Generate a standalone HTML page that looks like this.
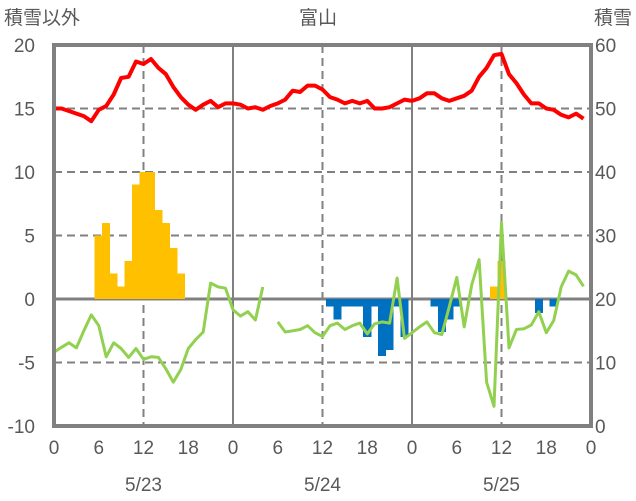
<!DOCTYPE html>
<html><head><meta charset="utf-8">
<style>
html,body{margin:0;padding:0;background:#fff;}
svg{display:block;font-family:"Liberation Sans","Noto Sans CJK JP",sans-serif;}
</style></head>
<body>
<svg id="chart" width="636" height="501" viewBox="0 0 636 501" xmlns="http://www.w3.org/2000/svg">
<g id="grid"></g>
<g id="bars" shape-rendering="crispEdges"></g>
<g id="lines"></g>
<g id="frame"></g>
<g id="labels"></g>
</svg>
<script>
const hourTicks = ["0","6","12","18","0","6","12","18","0","6","12","18","0"];
const dateLabels = ["5/23","5/24","5/25"];
const leftTicks = [20,15,10,5,0,-5,-10];
const rightTicks = [60,50,40,30,20,10,0];
const tempSeries = [15.0,15.0,14.8,14.6,14.4,14.0,14.9,15.2,16.1,17.4,17.5,18.7,18.5,18.9,18.2,17.7,16.7,15.9,15.3,14.9,15.3,15.6,15.1,15.4,15.4,15.3,15.0,15.1,14.9,15.2,15.4,15.7,16.4,16.3,16.8,16.8,16.5,15.9,15.7,15.4,15.6,15.4,15.6,15.0,15.0,15.1,15.4,15.7,15.6,15.8,16.2,16.2,15.8,15.6,15.8,16.0,16.4,17.5,18.2,19.2,19.3,17.7,17.0,16.1,15.4,15.4,15.0,14.9,14.5,14.3,14.6,14.2];
const greenSeries = [11.6,12.4,13.1,12.3,15.0,17.5,15.8,10.9,13.1,12.2,10.8,12.2,10.5,10.9,10.8,9.0,6.9,8.9,12.2,13.6,14.8,22.5,21.9,21.7,18.3,17.3,18.0,16.7,21.9,null,16.4,14.8,15.0,15.2,15.8,14.7,14.1,15.8,16.2,15.2,15.8,16.2,14.5,16.1,16.4,16.2,23.3,13.8,14.7,15.6,16.4,14.7,14.4,18.8,23.4,15.6,22.2,26.2,6.9,3.1,32.0,12.3,15.2,15.3,15.9,18.0,14.7,16.6,21.9,24.4,23.8,22.0];
const posHours = [6,7,8,9,10,11,12,13,14,15,16,17,59,60];
const posValues = [5,6,2,1,3,9,10,10,7,6,4,2,1,3];
const negHours = [37,38,39,40,41,42,43,44,45,46,47,51,52,53,54,65,67];
const negValues = [-0.6,-1.6,-0.6,-0.6,-0.6,-3.0,-0.6,-4.5,-4.0,-0.6,-3.0,-0.6,-2.6,-1.6,-0.6,-1.1,-0.6];

const NS="http://www.w3.org/2000/svg";
const X0=54,X1=591,YT=45,YB=426;
function x(h){return X0+h*(X1-X0)/72;}
function yL(v){return YT+(20-v)*(YB-YT)/30;}
function yR(v){return YB-v*(YB-YT)/60;}
function mk(tag,attrs,parent){const e=document.createElementNS(NS,tag);for(const k in attrs)e.setAttribute(k,attrs[k]);document.getElementById(parent).appendChild(e);return e;}

leftTicks.forEach(v=>{
  if(v===20||v===-10)return;
  const l=mk('line',{x1:X0,x2:X1,y1:yL(v),y2:yL(v),stroke:'#808080','stroke-width':v===0?3:2,'stroke-dasharray':v===0?'':'8,5'},'grid');
  
  
});
[12,24,36,48,60].forEach(h=>{
  const solid=h%24===0;
  const l=mk('line',{x1:x(h),x2:x(h),y1:YT,y2:YB,stroke:'#808080','stroke-width':2,'stroke-dasharray':solid?'':'8,5'},'grid');
  
  
});
const bw=(X1-X0)/72;
posHours.forEach((h,i)=>{
  const v=posValues[i];
  const r=mk('rect',{x:x(h)-bw/2-0.3,y:yL(v),width:bw+0.6,height:yL(0)-yL(v),fill:'#FFC000'},'bars');
  
  
});
negHours.forEach((h,i)=>{
  const v=negValues[i];
  const r=mk('rect',{x:x(h)-bw/2-0.3,y:yL(0),width:bw+0.6,height:yL(v)-yL(0),fill:'#0070C0'},'bars');
  
  
});
let d='',pen=false;
greenSeries.forEach((v,h)=>{
  if(v===null){pen=false;return;}
  d+=(pen?'L':'M')+x(h).toFixed(1)+','+yR(v).toFixed(1);pen=true;
});
const g=mk('path',{d:d,fill:'none',stroke:'#92D050','stroke-width':3,'stroke-linejoin':'round'},'lines');


const rd=tempSeries.map((v,h)=>(h?'L':'M')+x(h).toFixed(1)+','+yL(v).toFixed(1)).join('');
const rl=mk('path',{d:rd,fill:'none',stroke:'#FF0000','stroke-width':4,'stroke-linejoin':'round'},'lines');


const f=mk('rect',{x:X0,y:YT,width:X1-X0,height:YB-YT,fill:'none',stroke:'#808080','stroke-width':4},'frame');


function txt(s,xx,yy,anchor,name){
  const t=mk('text',{x:xx,y:yy,'text-anchor':anchor,'font-size':19,fill:'#595959'},'labels');
  t.textContent=s;
  
  
}
leftTicks.forEach(v=>txt(String(v),35,yL(v)+7,'end','left-tick-label'));
rightTicks.forEach(v=>txt(String(v),595,yR(v)+7,'start','right-tick-label'));
hourTicks.forEach((s,i)=>txt(s,x(i*6),454,'middle','hour-tick-label'));
dateLabels.forEach((s,i)=>txt(s,x(12+i*24),491,'middle','date-label'));
txt('積雪以外',4,24,'start','left-axis-title');
txt('富山',318,24,'middle','chart-title');
txt('積雪',632,24,'end','right-axis-title');
</script>
</body></html>
